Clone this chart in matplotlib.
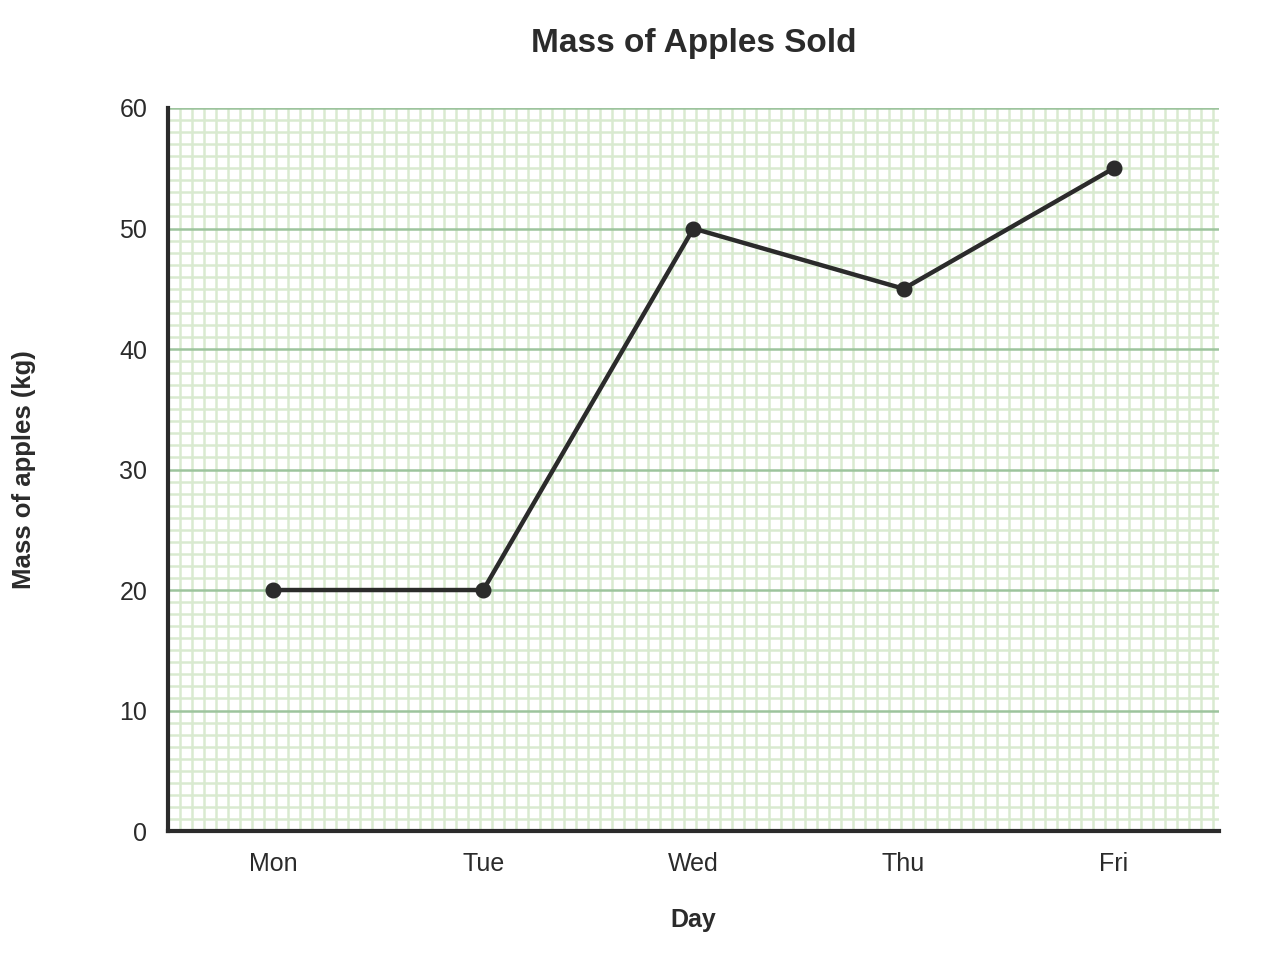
import numpy as np
import matplotlib
matplotlib.use("Agg")
import matplotlib.pyplot as plt

days = ["Mon", "Tue", "Wed", "Thu", "Fri"]
mass_kg = [20, 20, 50, 45, 55]
y_ticks = [0, 10, 20, 30, 40, 50, 60]

plt.rcParams['font.family'] = ['Liberation Sans', 'DejaVu Sans']

fig = plt.figure(figsize=(12.8, 9.8), dpi=100)
ax = fig.add_axes([0.13125, 0.152, 0.821, 0.7378])

x = np.arange(len(days))
ax.set_xlim(-0.5, len(days) - 0.5)
ax.set_ylim(0, 60)

# graph-paper minor grid, ~12 px squares
x_step = 12 / 210
for xv in np.arange(-0.5 + x_step, len(days) - 0.5 + 1e-6, x_step):
    ax.axvline(xv, color='#d9ead0', lw=1.8, zorder=0)
for yv in np.arange(1, 60, 1):
    if yv % 10:
        ax.axhline(yv, color='#d9ead0', lw=1.8, zorder=0)
for yv in y_ticks[1:]:
    ax.axhline(yv, color='#9dc49d', lw=1.8, zorder=1)

ax.plot(x, mass_kg, color='#2b2b2b', lw=3.2, marker='o', ms=10.5,
        zorder=3, clip_on=False)

ax.set_xticks(x)
ax.set_xticklabels(days)
ax.set_yticks(y_ticks)
ax.tick_params(length=0, labelsize=18, colors='#2b2b2b')
ax.tick_params(axis='x', pad=15)
ax.tick_params(axis='y', pad=15)

for s in ['top', 'right']:
    ax.spines[s].set_visible(False)
for s in ['left', 'bottom']:
    ax.spines[s].set_color('#2b2b2b')
    ax.spines[s].set_linewidth(3)
    ax.spines[s].set_zorder(4)

ax.set_xlabel("Day", fontsize=18, fontweight='bold', color='#2b2b2b', labelpad=23)
ax.set_ylabel("Mass of apples (kg)", fontsize=18.5, fontweight='bold',
              color='#2b2b2b', labelpad=60)
ax.set_title("Mass of Apples Sold", fontsize=24, fontweight='bold',
             color='#2b2b2b', pad=40)

fig.savefig("out.png", dpi=100)
